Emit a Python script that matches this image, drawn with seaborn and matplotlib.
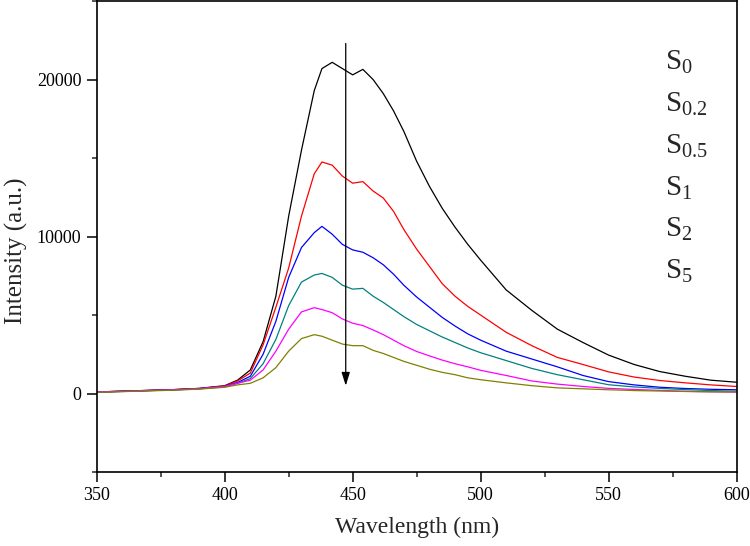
import numpy as np
import pandas as pd
import matplotlib
matplotlib.use("Agg")
import matplotlib.pyplot as plt
from matplotlib.lines import Line2D
from matplotlib.ticker import MultipleLocator
import seaborn as sns

wavelength = [350, 360, 370, 380, 390, 400, 405, 410, 415, 420, 425, 430, 435, 438,
              442, 446, 450, 454, 458, 462, 466, 470, 475, 480, 485, 490, 495, 500,
              510, 520, 530, 540, 550, 560, 570, 580, 590, 600]

s0 = [100, 150, 200, 250, 330, 500, 850, 1500, 3300, 6200, 11300, 15500, 19300, 20700,
      21100, 20700, 20300, 20650, 20000, 19100, 18000, 16700, 14800, 13200, 11800, 10600,
      9500, 8500, 6600, 5300, 4100, 3250, 2450, 1850, 1400, 1100, 850, 720]
s02 = [100, 150, 200, 250, 320, 480, 800, 1300, 3100, 5500, 8000, 11300, 14000, 14750,
       14550, 13850, 13400, 13500, 12900, 12450, 11600, 10450, 9200, 8100, 7000, 6200,
       5550, 5000, 3900, 3050, 2300, 1850, 1380, 1050, 830, 680, 550, 450]
s05 = [100, 140, 190, 240, 310, 450, 700, 1100, 2500, 4600, 7400, 9300, 10250, 10650,
       10150, 9500, 9150, 9000, 8650, 8200, 7600, 6900, 6150, 5500, 4850, 4300, 3800,
       3400, 2700, 2200, 1700, 1150, 760, 550, 400, 320, 270, 240]
s1 = [90, 130, 180, 230, 300, 430, 650, 950, 1900, 3450, 5600, 7100, 7550, 7650,
      7400, 6900, 6650, 6700, 6200, 5800, 5350, 4900, 4400, 4000, 3600, 3250, 2900,
      2600, 2100, 1600, 1200, 880, 560, 420, 330, 250, 190, 150]
s2 = [100, 140, 190, 240, 310, 450, 650, 850, 1500, 2700, 4100, 5200, 5470, 5350,
      5150, 4750, 4480, 4330, 4050, 3750, 3400, 3050, 2680, 2400, 2130, 1900, 1700,
      1480, 1150, 800, 600, 450, 330, 260, 200, 140, 110, 90]
s5 = [80, 120, 170, 210, 280, 400, 550, 650, 1000, 1650, 2700, 3500, 3750, 3650,
      3400, 3150, 3050, 3050, 2750, 2550, 2300, 2050, 1800, 1550, 1350, 1200, 1000,
      880, 680, 500, 360, 300, 240, 190, 160, 130, 110, 100]

labels = ["S0", "S0.2", "S0.5", "S1", "S2", "S5"]
legend_labels = [r"$\mathrm{S}_{0}$", r"$\mathrm{S}_{0.2}$", r"$\mathrm{S}_{0.5}$",
                 r"$\mathrm{S}_{1}$", r"$\mathrm{S}_{2}$", r"$\mathrm{S}_{5}$"]
colors = ["#000000", "#FF0000", "#0000FF", "#008080", "#FF00FF", "#808000"]

series = [s0, s02, s05, s1, s2, s5]
df = pd.concat([pd.DataFrame({"Wavelength": wavelength, "Intensity": vals, "Sample": lab})
                for lab, vals in zip(labels, series)], ignore_index=True)

sns.set_style("ticks")
plt.rcParams["font.family"] = ["Liberation Serif", "DejaVu Serif"]
plt.rcParams["mathtext.fontset"] = "custom"
plt.rcParams["mathtext.rm"] = "Liberation Serif"
plt.rcParams["mathtext.it"] = "Liberation Serif:italic"

fig = plt.figure(figsize=(7.5, 5.46), dpi=100)
ax = fig.add_axes([0.129, 0.1355, 0.853, 0.8625])

sns.lineplot(data=df, x="Wavelength", y="Intensity", hue="Sample", palette=colors,
             linewidth=0.9, ax=ax, legend=False)

ax.set_xlim(350, 600)
ax.set_ylim(-5000, 25000)
ax.xaxis.set_major_locator(MultipleLocator(50))
ax.xaxis.set_minor_locator(MultipleLocator(25))
ax.yaxis.set_major_locator(MultipleLocator(10000))
ax.yaxis.set_minor_locator(MultipleLocator(5000))
ax.set_yticks([0, 10000, 20000])
ax.tick_params(which="major", direction="out", length=7, width=1.1, labelsize=13,
               colors="black", pad=4)
ax.tick_params(which="minor", direction="out", length=3.5, width=1.1)
for sp in ax.spines.values():
    sp.set_linewidth(1.2)
    sp.set_color("black")
    sp.set_visible(True)

ax.set_xlabel("Wavelength (nm)", fontsize=17, labelpad=9)
ax.set_ylabel("Intensity (a.u.)", fontsize=18)
ax.yaxis.set_label_coords(-0.108, 0.47)

ax.annotate("", xy=(447.3, 500), xytext=(447.3, 22300),
            arrowprops=dict(arrowstyle="-|>,head_length=0.8,head_width=0.25",
                            color="black", lw=0.9, shrinkA=0, shrinkB=0))

handles = [Line2D([], [], color=c, linewidth=0) for c in colors]
leg = ax.legend(handles, legend_labels, loc="upper left", bbox_to_anchor=(0.87, 0.923),
                frameon=False, handlelength=0, handletextpad=0, fontsize=21,
                labelspacing=0.50, borderaxespad=0)

fig.savefig("out.png", dpi=100)
